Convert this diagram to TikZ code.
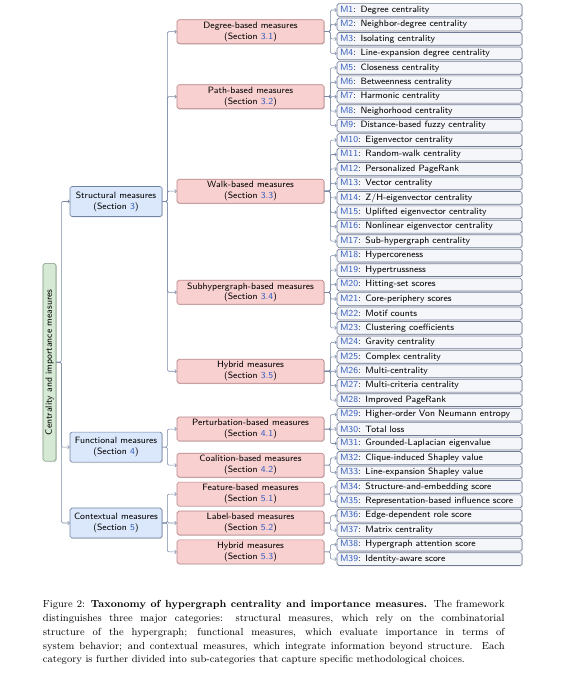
\documentclass[tikz,border=0pt]{standalone}
\usepackage{xcolor}
\usetikzlibrary{arrows.meta,shadows}
\definecolor{linkblue}{RGB}{55,95,190}
\definecolor{leaffill}{RGB}{245,246,249}
\definecolor{leafdraw}{RGB}{112,124,150}
\definecolor{pinkfill}{RGB}{248,208,208}
\definecolor{pinkdraw}{RGB}{185,130,135}
\definecolor{bluefill}{RGB}{219,232,251}
\definecolor{bluedraw}{RGB}{112,130,165}
\definecolor{greenfill}{RGB}{214,233,212}
\definecolor{greendraw}{RGB}{125,150,125}
\definecolor{conncol}{RGB}{120,135,165}
\newcommand{\lk}[1]{\textcolor{linkblue}{#1}}
\tikzset{
  boxbase/.style={rounded corners=1.6pt, line width=0.55pt, inner sep=0pt,
    drop shadow={opacity=0.28, shadow xshift=0.7pt, shadow yshift=-0.8pt}},
  leaf/.style={boxbase, draw=leafdraw, fill=leaffill, minimum width=161.9pt,
    minimum height=11.2pt, text width=159pt, align=left,
    font=\sffamily\footnotesize},
  subcat/.style={boxbase, draw=pinkdraw, fill=pinkfill, minimum width=128.6pt,
    minimum height=21pt, align=center, font=\sffamily\footnotesize},
  maincat/.style={boxbase, draw=bluedraw, fill=bluefill, minimum width=80.5pt,
    minimum height=26.3pt, align=center, font=\sffamily\footnotesize},
  rootbox/.style={boxbase, draw=greendraw, fill=greenfill, minimum width=173pt,
    minimum height=11.4pt, rotate=90, font=\sffamily\footnotesize},
  conn/.style={draw=conncol, line width=0.5pt, rounded corners=1.2pt,
    -{To[length=1.9pt,width=3.4pt]}},
}
\begin{document}
\begin{tikzpicture}[x=0.875pt,y=-0.875pt]
\useasboundingbox (0,0) rectangle (564,680);
% leaves
\foreach \i/\t in {
 1/{Degree centrality},
 2/{Neighbor-degree centrality},
 3/{Isolating centrality},
 4/{Line-expansion degree centrality},
 5/{Closeness centrality},
 6/{Betweenness centrality},
 7/{Harmonic centrality},
 8/{Neighorhood centrality},
 9/{Distance-based fuzzy centrality},
 10/{Eigenvector centrality},
 11/{Random-walk centrality},
 12/{Personalized PageRank},
 13/{Vector centrality},
 14/{Z/H-eigenvector centrality},
 15/{Uplifted eigenvector centrality},
 16/{Nonlinear eigenvector centrality},
 17/{Sub-hypergraph centrality},
 18/{Hypercoreness},
 19/{Hypertrussness},
 20/{Hitting-set scores},
 21/{Core-periphery scores},
 22/{Motif counts},
 23/{Clustering coefficients},
 24/{Gravity centrality},
 25/{Complex centrality},
 26/{Multi-centrality},
 27/{Multi-criteria centrality},
 28/{Improved PageRank},
 29/{Higher-order Von Neumann entropy},
 30/{Total loss},
 31/{Grounded-Laplacian eigenvalue},
 32/{Clique-induced Shapley value},
 33/{Line-expansion Shapley value},
 34/{Structure-and-embedding score},
 35/{Representation-based influence score},
 36/{Edge-dependent role score},
 37/{Matrix centrality},
 38/{Hypergraph attention score},
 39/{Identity-aware score}}
{
  \node[leaf] (M\i) at (429.5,{10+14.45*(\i-1)}) {\hspace{1.2pt}\mbox{\lk{M\i}: \t}};
}
% sub-categories
\node[subcat] (c31) at (250.5,31.7)   {Degree-based measures\\(Section \lk{3.1})};
\node[subcat] (c32) at (250.5,96.7)   {Path-based measures\\(Section \lk{3.2})};
\node[subcat] (c33) at (250.5,191.2)  {Walk-based measures\\(Section \lk{3.3})};
\node[subcat] (c34) at (250.5,292.3)  {Subhypergraph-based measures\\(Section \lk{3.4})};
\node[subcat] (c35) at (250.5,371.25) {Hybrid measures\\(Section \lk{3.5})};
\node[subcat] (c41) at (250.5,429.05) {Perturbation-based measures\\(Section \lk{4.1})};
\node[subcat] (c42) at (250.5,465.2)  {Coalition-based measures\\(Section \lk{4.2})};
\node[subcat] (c51) at (250.5,494.1)  {Feature-based measures\\(Section \lk{5.1})};
\node[subcat] (c52) at (250.5,523)    {Label-based measures\\(Section \lk{5.2})};
\node[subcat] (c53) at (250.5,551.9)  {Hybrid measures\\(Section \lk{5.3})};
% main categories
\node[maincat] (s3) at (116,201.5) {Structural measures\\(Section \lk{3})};
\node[maincat] (s4) at (116,447.1) {Functional measures\\(Section \lk{4})};
\node[maincat] (s5) at (116,523)   {Contextual measures\\(Section \lk{5})};
% root
\node[rootbox] (root) at (49.5,362.25) {Centrality and importance measures};
% connectors
\foreach \c in {s3,s4,s5} \draw[conn] (root.south) -- ++(5,0) |- (\c.west);
\foreach \c in {c31,c32,c33,c34,c35} \draw[conn] (s3.east) -- ++(5,0) |- (\c.west);
\foreach \c in {c41,c42} \draw[conn] (s4.east) -- ++(5,0) |- (\c.west);
\foreach \c in {c51,c52,c53} \draw[conn] (s5.east) -- ++(5,0) |- (\c.west);
\foreach \m in {1,...,4} \draw[conn] (c31.east) -- ++(6,0) |- (M\m.west);
\foreach \m in {5,...,9} \draw[conn] (c32.east) -- ++(6,0) |- (M\m.west);
\foreach \m in {10,...,17} \draw[conn] (c33.east) -- ++(6,0) |- (M\m.west);
\foreach \m in {18,...,23} \draw[conn] (c34.east) -- ++(6,0) |- (M\m.west);
\foreach \m in {24,...,28} \draw[conn] (c35.east) -- ++(6,0) |- (M\m.west);
\foreach \m in {29,...,31} \draw[conn] (c41.east) -- ++(6,0) |- (M\m.west);
\foreach \m in {32,33} \draw[conn] (c42.east) -- ++(6,0) |- (M\m.west);
\foreach \m in {34,35} \draw[conn] (c51.east) -- ++(6,0) |- (M\m.west);
\foreach \m in {36,37} \draw[conn] (c52.east) -- ++(6,0) |- (M\m.west);
\foreach \m in {38,39} \draw[conn] (c53.east) -- ++(6,0) |- (M\m.west);
% caption
\node[anchor=north west, inner sep=0pt, text width=404pt, align=justify,
  font=\fontsize{9}{12}\selectfont] (caption) at (42.7,600.5)
{\hyphenpenalty=10000 \exhyphenpenalty=10000 Figure 2: \textbf{Taxonomy of hypergraph centrality and importance measures.} The framework\linebreak
distinguishes three major categories: structural measures, which rely on the combinatorial\linebreak
structure of the hypergraph; functional measures, which evaluate importance in terms of\linebreak
system behavior; and contextual measures, which integrate information beyond structure. Each\linebreak
category is further divided into sub-categories that capture specific methodological choices.};
\end{tikzpicture}
\end{document}
